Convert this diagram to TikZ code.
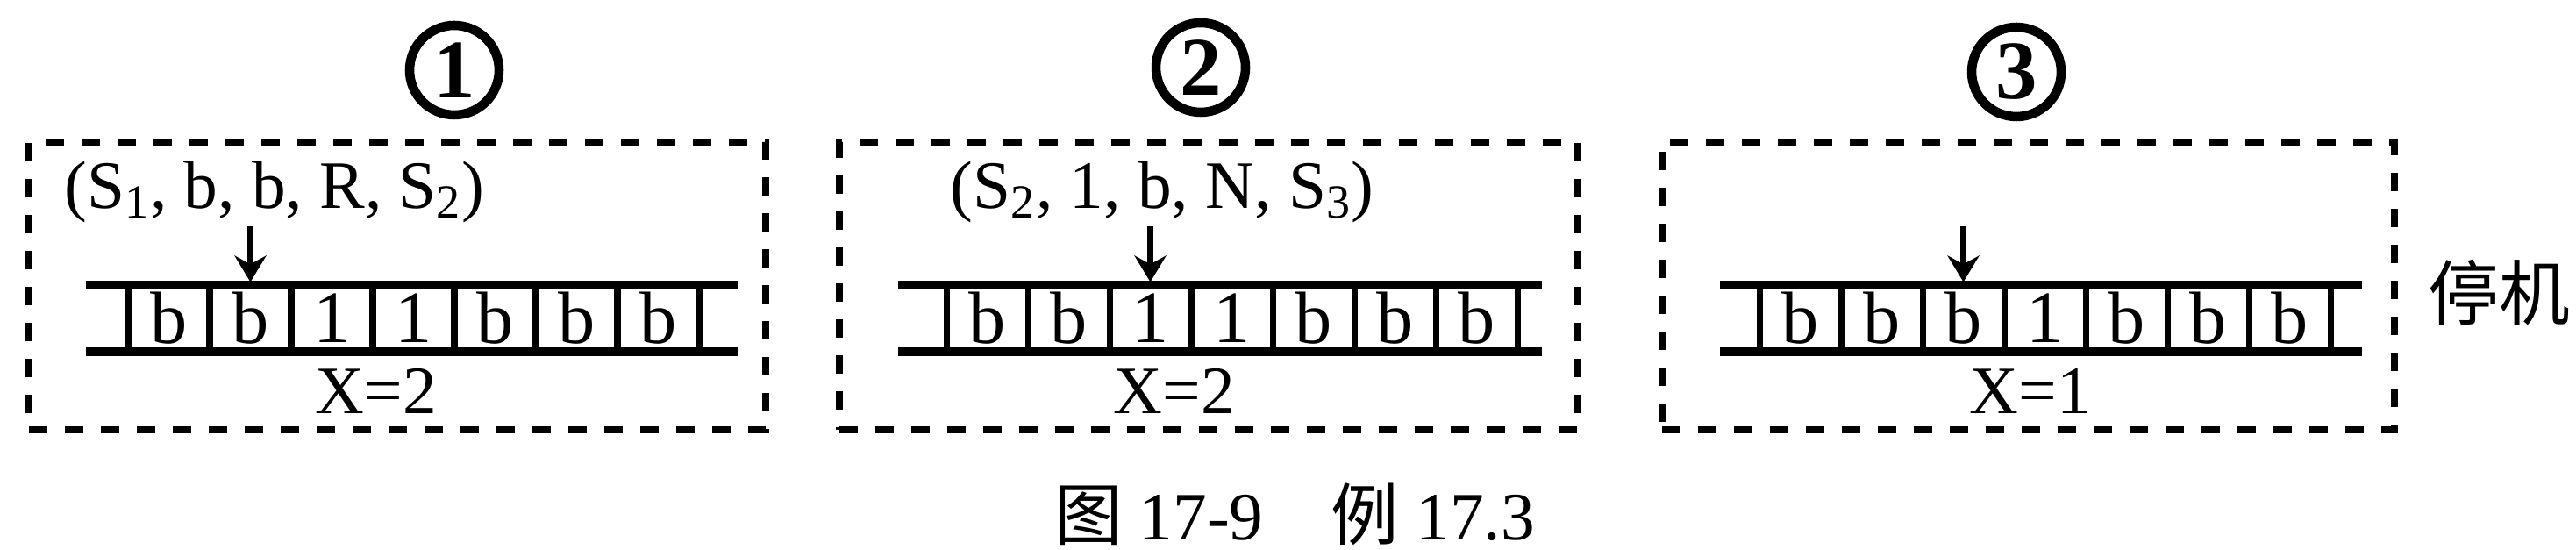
\documentclass[tikz,border=0pt]{standalone}
\usepackage{fontspec}
\setmainfont{Liberation Serif}
\newfontfamily\cjk{Noto Sans CJK SC}
\usetikzlibrary{arrows.meta}

\begin{document}
\begin{tikzpicture}[line width = 1pt,
                        dbox/.style = {draw, line width = 2.4pt, dash pattern = on 0.21cm off 0.2cm, minimum height = 3.28cm},
                        num/.style = {circle, draw, line width = 3pt, minimum size = 1.02cm, inner sep = 0pt, font = \fontsize{27}{30}\selectfont\bfseries},
                        cell/.style = {draw, line width = 2pt, minimum width = 0.93cm, minimum height = 0.76cm, inner sep = 0pt, font = \fontsize{24}{26}\selectfont},
                        tape/.style = {line width = 2.8pt},
                        txt/.style = {inner sep = 0pt, font = \fontsize{22}{26}\selectfont},
                        pointer/.style = {line width = 2pt, -{Stealth[length = 0.3cm, width = 0.36cm]}}]
      \useasboundingbox (0, 0) rectangle (29.37, 6.27);

      % step 1
      \node [num] (n1) at (5.18, 5.47){1};
      \node [dbox, minimum width = 8.40cm] (f1) at (4.53, 3.01){};
      \node [txt, anchor = base west] (l1) at (0.72, 3.89){(S\textsubscript{1}, b, b, R, S\textsubscript{2})};
      \node [cell] (c11) at (1.925, 2.64){b};
      \node [cell] (c12) at (2.855, 2.64){b};
      \node [cell] (c13) at (3.785, 2.64){1};
      \node [cell] (c14) at (4.715, 2.64){1};
      \node [cell] (c15) at (5.645, 2.64){b};
      \node [cell] (c16) at (6.575, 2.64){b};
      \node [cell] (c17) at (7.505, 2.64){b};
      \coordinate (t1a) at (0.98, 3.02);
      \coordinate (t1b) at (8.41, 3.02);
      \coordinate (t1c) at (0.98, 2.26);
      \coordinate (t1d) at (8.41, 2.26);
      \draw [tape] (t1a) -- (t1b);
      \draw [tape] (t1c) -- (t1d);
      \coordinate (p1) at (2.855, 3.69);
      \draw [pointer] (p1) -- (c12.north);
      \node [txt, anchor = base] (x1) at (4.29, 1.55){X=2};

      % step 2
      \node [num] (n2) at (13.69, 5.50){2};
      \node [dbox, minimum width = 8.42cm] (f2) at (13.78, 3.01){};
      \node [txt, anchor = base west] (l2) at (10.82, 3.89){(S\textsubscript{2}, 1, b, N, S\textsubscript{3})};
      \node [cell] (c21) at (11.255, 2.64){b};
      \node [cell] (c22) at (12.185, 2.64){b};
      \node [cell] (c23) at (13.115, 2.64){1};
      \node [cell] (c24) at (14.045, 2.64){1};
      \node [cell] (c25) at (14.975, 2.64){b};
      \node [cell] (c26) at (15.905, 2.64){b};
      \node [cell] (c27) at (16.835, 2.64){b};
      \coordinate (t2a) at (10.24, 3.02);
      \coordinate (t2b) at (17.58, 3.02);
      \coordinate (t2c) at (10.24, 2.26);
      \coordinate (t2d) at (17.58, 2.26);
      \draw [tape] (t2a) -- (t2b);
      \draw [tape] (t2c) -- (t2d);
      \coordinate (p2) at (13.115, 3.69);
      \draw [pointer] (p2) -- (c23.north);
      \node [txt, anchor = base] (x2) at (13.39, 1.55){X=2};

      % step 3
      \node [num] (n3) at (22.99, 5.45){3};
      \node [dbox, minimum width = 8.35cm] (f3) at (23.125, 3.01){};
      \node [cell] (c31) at (20.525, 2.64){b};
      \node [cell] (c32) at (21.455, 2.64){b};
      \node [cell] (c33) at (22.385, 2.64){b};
      \node [cell] (c34) at (23.315, 2.64){1};
      \node [cell] (c35) at (24.245, 2.64){b};
      \node [cell] (c36) at (25.175, 2.64){b};
      \node [cell] (c37) at (26.105, 2.64){b};
      \coordinate (t3a) at (19.61, 3.02);
      \coordinate (t3b) at (26.93, 3.02);
      \coordinate (t3c) at (19.61, 2.26);
      \coordinate (t3d) at (26.93, 2.26);
      \draw [tape] (t3a) -- (t3b);
      \draw [tape] (t3c) -- (t3d);
      \coordinate (p3) at (22.385, 3.69);
      \draw [pointer] (p3) -- (c33.north);
      \node [txt, anchor = base] (x3) at (23.15, 1.55){X=1};
      \node [txt, font = \fontsize{23}{26}\selectfont] (halt) at (28.49, 2.93){\cjk 停机};

      \node [txt] (cap) at (14.76, 0.41){{\cjk 图} 17-9\quad{\cjk 例} 17.3};

      \end{tikzpicture}
\end{document}
